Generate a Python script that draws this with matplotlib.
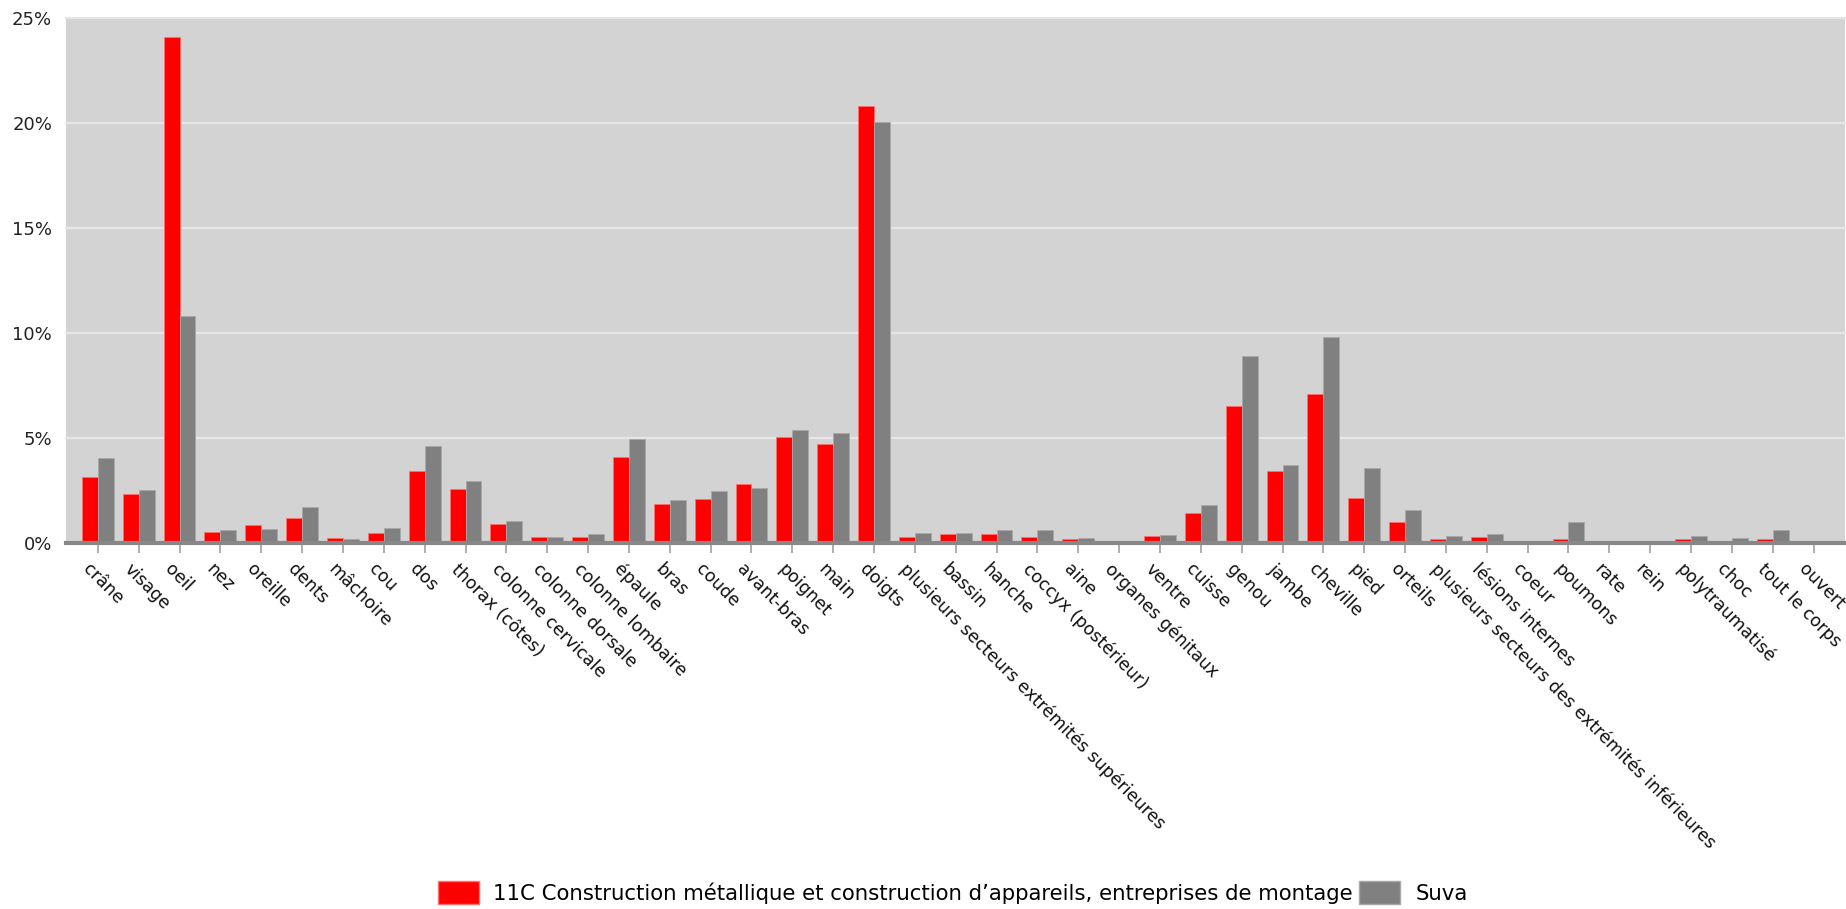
import numpy as np
import matplotlib.pyplot as plt
from matplotlib.patches import Patch
from matplotlib.transforms import ScaledTranslation

# Body parts (x categories)
categories = ['crâne', 'visage', 'oeil', 'nez', 'oreille', 'dents', 'mâchoire', 'cou',
              'dos', 'thorax (côtes)', 'colonne cervicale', 'colonne dorsale',
              'colonne lombaire', 'épaule', 'bras', 'coude', 'avant-bras', 'poignet',
              'main', 'doigts', 'plusieurs secteurs extrémités supérieures', 'bassin',
              'hanche', 'coccyx (postérieur)', 'aine', 'organes génitaux', 'ventre',
              'cuisse', 'genou', 'jambe', 'cheville', 'pied', 'orteils',
              'plusieurs secteurs des extrémités inférieures', 'lésions internes',
              'coeur', 'poumons', 'rate', 'rein', 'polytraumatisé', 'choc',
              'tout le corps', 'ouvert']

# share of cases in %
branch_11c = [3.13, 2.35, 24.1, 0.51, 0.84, 1.21, 0.24, 0.48, 3.43, 2.57, 0.90, 0.27,
              0.30, 4.08, 1.84, 2.10, 2.81, 5.03, 4.70, 20.81, 0.27, 0.43, 0.41, 0.29,
              0.19, 0.05, 0.33, 1.41, 6.54, 3.41, 7.08, 2.13, 0.98, 0.17, 0.27, 0.03,
              0.18, 0.0, 0.0, 0.18, 0.02, 0.18, 0.0]
suva = [4.03, 2.52, 10.79, 0.62, 0.68, 1.70, 0.21, 0.71, 4.63, 2.94, 1.03, 0.27,
        0.43, 4.95, 2.03, 2.46, 2.62, 5.40, 5.22, 20.03, 0.48, 0.46, 0.62, 0.60,
        0.24, 0.07, 0.38, 1.81, 8.89, 3.70, 9.83, 3.56, 1.56, 0.32, 0.43, 0.03,
        1.00, 0.01, 0.01, 0.33, 0.22, 0.62, 0.02]

yticks = [0, 5, 10, 15, 20, 25]
label_11c = '11C Construction métallique et construction d’appareils, entreprises de montage'
label_suva = 'Suva'

plt.rcParams['font.family'] = ['DejaVu Sans']

fig = plt.figure(figsize=(18.46, 9.09), dpi=100)
ax = fig.add_axes([66 / 1846, 1 - 543 / 909, 1779 / 1846, 525 / 909])
ax.set_facecolor('#d3d3d3')

x = np.arange(len(categories))
w = 0.39
ax.bar(x - w / 2, branch_11c, w, color='#ff0000', edgecolor='#ff7070', linewidth=0.6, zorder=3)
ax.bar(x + w / 2, suva, w, color='#808080', edgecolor='#a8a8a8', linewidth=0.6, zorder=3)

for yv in yticks[1:]:
    ax.axhline(yv, color='#e6e6e6', lw=1.6, zorder=1, clip_on=False)
ax.axhline(0, color='#888888', lw=3, zorder=4, clip_on=False)

ax.set_xlim(-0.78, len(categories) - 1 + 0.77)
ax.set_ylim(0, 25)
ax.set_yticks(yticks)
ax.set_yticklabels([f'{v}%' for v in yticks], fontsize=13, color='#222222')
ax.tick_params(axis='y', length=0, pad=10)

ax.set_xticks(x)
ax.set_xticklabels(categories, fontsize=12.5, color='#111111', rotation=-45,
                   ha='left', va='center', rotation_mode='anchor')
ax.tick_params(axis='x', length=7, width=1.1, color='#999999', pad=8)
shift = ScaledTranslation(-12 / 100, -3 / 100, fig.dpi_scale_trans)
for lbl in ax.get_xticklabels():
    lbl.set_transform(lbl.get_transform() + shift)

for s in ax.spines.values():
    s.set_visible(False)

handles = [Patch(facecolor='#ff0000', edgecolor='#ff7070'),
           Patch(facecolor='#808080', edgecolor='#a8a8a8')]
fig.legend(handles, [label_11c, label_suva], loc='center', bbox_to_anchor=(0.516, 0.018),
           ncol=2, frameon=False, fontsize=15.3, handlelength=1.93, handleheight=1.32,
           handletextpad=0.7, columnspacing=0.3)

fig.savefig('out.png', dpi=100)
